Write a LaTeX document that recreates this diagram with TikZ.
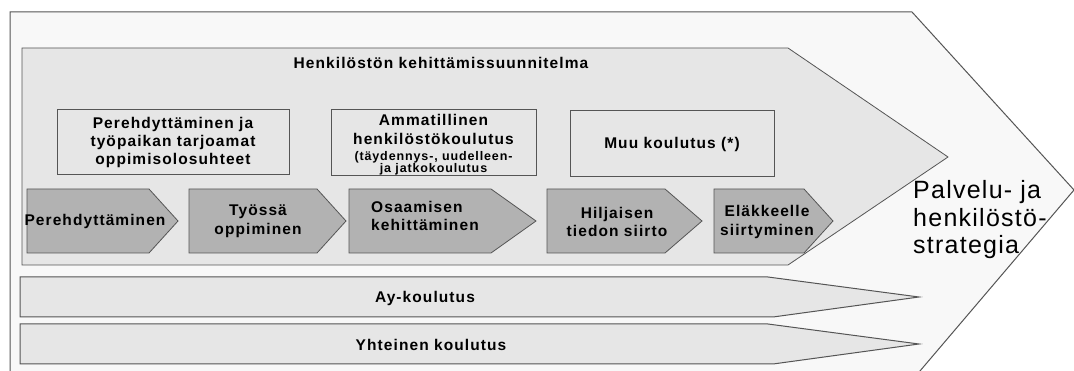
\documentclass[tikz,border=0pt]{standalone}
\usepackage{fontspec}
\setmainfont{Liberation Sans}
\newfontfamily\leveafont[LetterSpace=7]{Liberation Sans Bold}
\newfontfamily\ohutfont[LetterSpace=5]{Liberation Sans}
\definecolor{reuna}{HTML}{555555}
\definecolor{vaalea}{HTML}{F8F8F8}
\definecolor{harmaa}{HTML}{E6E6E6}
\definecolor{tumma}{HTML}{B2B2B2}

\begin{document}
\begin{tikzpicture}[x=1pt,y=-1pt]
	\tikzstyle{ulko}=[draw=reuna,fill=vaalea,line width=1pt]
	\tikzstyle{sisa}=[draw=reuna,fill=harmaa,line width=0.8pt]
	\tikzstyle{laatikko}=[rectangle,draw=reuna,fill=harmaa,line width=1pt,align=center,inner sep=0pt,font=\leveafont\fontsize{15.5}{18}\selectfont]
	\tikzstyle{vaihe}=[draw=reuna,fill=tumma,line width=0.8pt]
	\tikzstyle{teksti}=[align=center,inner sep=0pt,font=\leveafont\fontsize{15.5}{18.5}\selectfont]
	\tikzstyle{pieni}=[align=center,inner sep=0pt,font=\leveafont\fontsize{12.5}{12.5}\selectfont]
	\useasboundingbox (0,0) rectangle (1074,371);
	\fill[white] (0,0) rectangle (1074,371);
	% ulompi nuoli ja suunnitelma
	\draw[ulko] (10,12) -- (912,12) -- (1074,190) -- (914,378) -- (10,378) -- cycle;
	\draw[sisa] (22,48) -- (788,48) -- (948,157) -- (788,265) -- (22,265) -- cycle;
	\node[teksti] (otsikko) at (441,63) {Henkilöstön kehittämissuunnitelma};
	% laatikot
	\node[laatikko,minimum width=232pt,minimum height=65pt] (perehdytys) at (173,142.5)
		{Perehdyttäminen ja\\työpaikan tarjoamat\\oppimisolosuhteet};
	\node[laatikko,minimum width=205pt,minimum height=66pt] (ammatillinen) at (433.5,143) {};
	\node[teksti] (ammateksti) at (433.5,129.5) {Ammatillinen\\henkilöstökoulutus};
	\node[pieni] (ammapieni) at (433.5,163.5) {(täydennys-, uudelleen-\\ja jatkokoulutus};
	\node[laatikko,minimum width=204pt,minimum height=66pt] (muu) at (672,144) {Muu koulutus (*)};
	% vaiheet
	\draw[vaihe] (27,189) -- (149,189) -- (178,221) -- (149,253) -- (27,253) -- cycle;
	\node[teksti] (v1) at (95,221) {Perehdyttäminen};
	\draw[vaihe] (189,189) -- (317,189) -- (346,221) -- (317,253) -- (189,253) -- cycle;
	\node[teksti] (v2) at (258,221) {Työssä\\oppiminen};
	\draw[vaihe] (349,189) -- (491,189) -- (536,221) -- (491,253) -- (349,253) -- cycle;
	\node[teksti,align=left,anchor=west] (v3) at (371,216) {Osaamisen\\kehittäminen};
	\draw[vaihe] (547,189) -- (665,189) -- (702,221) -- (665,253) -- (547,253) -- cycle;
	\node[teksti] (v4) at (617,222) {Hiljaisen\\tiedon siirto};
	\draw[vaihe] (714,189) -- (804,189) -- (833,221) -- (804,253) -- (714,253) -- cycle;
	\node[teksti] (v5) at (767,222) {Eläkkeelle\\siirtyminen};
	% alareunan nauhat
	\draw[sisa,line width=1pt] (20,277) -- (768,277) -- (919,297) -- (773,317) -- (20,317) -- cycle;
	\node[teksti] (ay) at (425,298) {Ay-koulutus};
	\draw[sisa,line width=1pt] (20,324) -- (768,324) -- (919,344) -- (773,364) -- (20,364) -- cycle;
	\node[teksti] (yhteinen) at (431,345) {Yhteinen koulutus};
	\node[align=left,anchor=west,inner sep=0pt,font=\ohutfont\fontsize{25}{27.5}\selectfont] (strategia) at (913,220)
		{Palvelu- ja\\henkilöstö-\\strategia};
\end{tikzpicture}
\end{document}
